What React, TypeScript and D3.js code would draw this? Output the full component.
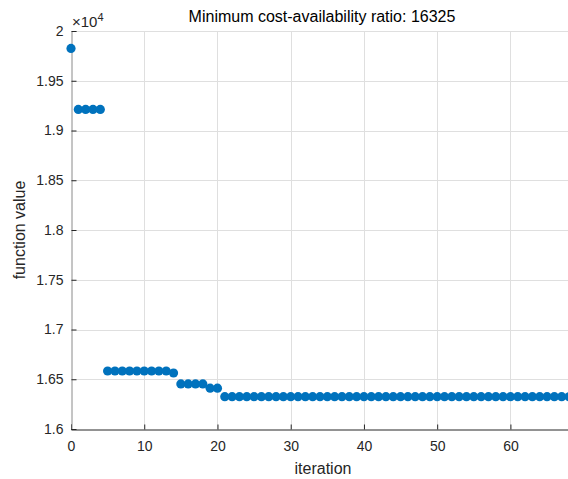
import React, { useEffect, useRef } from "react";
import * as d3 from "d3";

// function value per iteration
const startValues = [19825, 19212, 19212, 19212, 19212];
const plateau1 = [16583, 16583, 16583, 16583, 16583, 16583, 16583, 16583, 16583, 16563];
const plateau2 = [16453, 16453, 16453, 16453, 16410, 16410];
const finalValue = 16325;
const finalCount = 48; // iterations 21..68
const yTicks = [1.6, 1.65, 1.7, 1.75, 1.8, 1.85, 1.9, 1.95, 2];
const xTicks = [0, 10, 20, 30, 40, 50, 60];

const values = [
  ...startValues,
  ...plateau1,
  ...plateau2,
  ...Array(finalCount).fill(finalValue),
];

const App = () => {
  const ref = useRef<SVGSVGElement | null>(null);

  useEffect(() => {
    if (!ref.current) return;
    const svg = d3.select(ref.current);
    svg.selectAll("*").remove();
    const width = 568;
    const height = 479;
    const margin = { top: 31, right: -1, bottom: 50, left: 71 };
    const font = "Liberation Sans, Arial, sans-serif";

    const x = d3
      .scaleLinear()
      .domain([0, 68])
      .range([margin.left, width - margin.right]);
    const y = d3
      .scaleLinear()
      .domain([16000, 20000])
      .range([height - margin.bottom, margin.top]);

    svg.append("rect").attr("width", width).attr("height", height).attr("fill", "#fff");

    // grid
    const grid = svg.append("g").attr("stroke", "#dfdfdf").attr("stroke-width", 1);
    xTicks.slice(1).forEach((t) => {
      grid
        .append("line")
        .attr("x1", Math.round(x(t)) + 0.5)
        .attr("x2", Math.round(x(t)) + 0.5)
        .attr("y1", y(20000))
        .attr("y2", y(16000));
    });
    yTicks.slice(1).forEach((t) => {
      grid
        .append("line")
        .attr("x1", x(0))
        .attr("x2", width)
        .attr("y1", Math.round(y(t * 1e4)) + 0.5)
        .attr("y2", Math.round(y(t * 1e4)) + 0.5);
    });

    // axes
    const xAxis = svg
      .append("g")
      .attr("transform", `translate(0,${Math.round(y(16000)) + 0.5})`)
      .call(
        d3
          .axisBottom(x)
          .tickValues(xTicks)
          .tickSize(-5)
          .tickPadding(12)
          .tickFormat((d) => String(d))
      );
    xAxis.select(".domain").attr("stroke", "#262626");
    xAxis.selectAll(".tick line").attr("stroke", "#262626");
    xAxis
      .selectAll(".tick text")
      .attr("fill", "#262626")
      .attr("font-size", 14)
      .attr("font-family", font);

    const yAxis = svg
      .append("g")
      .attr("transform", `translate(${Math.round(x(0)) + 0.5},0)`)
      .call(
        d3
          .axisLeft(y)
          .tickValues(yTicks.map((t) => t * 1e4))
          .tickSize(-5)
          .tickPadding(8)
          .tickFormat((d) => String(+(+d / 1e4).toFixed(2)))
      );
    yAxis.select(".domain").attr("stroke", "#8a8a8a");
    yAxis.selectAll(".tick line").attr("stroke", "#262626");
    yAxis
      .selectAll(".tick text")
      .attr("fill", "#262626")
      .attr("font-size", 14)
      .attr("font-family", font);

    // exponent
    const exp = svg
      .append("text")
      .attr("x", x(0) + 1)
      .attr("y", 27)
      .attr("font-family", font)
      .attr("font-size", 15)
      .attr("fill", "#262626");
    exp.append("tspan").text("×10");
    exp.append("tspan").attr("font-size", 11).attr("dy", -6).text("4");

    // points
    svg
      .append("g")
      .selectAll("circle")
      .data(values)
      .join("circle")
      .attr("cx", (_, i) => x(i))
      .attr("cy", (d) => y(d))
      .attr("r", 4.6)
      .attr("fill", "#0072BD");

    // labels
    svg
      .append("text")
      .attr("x", 322)
      .attr("y", 22)
      .attr("text-anchor", "middle")
      .attr("font-family", font)
      .attr("font-size", 16)
      .attr("fill", "#000")
      .text("Minimum cost-availability ratio: " + finalValue);

    svg
      .append("text")
      .attr("x", 323)
      .attr("y", 474)
      .attr("text-anchor", "middle")
      .attr("font-family", font)
      .attr("font-size", 16)
      .attr("fill", "#262626")
      .text("iteration");

    svg
      .append("text")
      .attr("transform", `translate(25,${(y(16000) + y(20000)) / 2}) rotate(-90)`)
      .attr("text-anchor", "middle")
      .attr("font-family", font)
      .attr("font-size", 16)
      .attr("fill", "#262626")
      .text("function value");
  }, []);

  return (
    <svg
      ref={ref}
      width={568}
      height={479}
      style={{ position: "absolute", left: 0, top: 0 }}
    ></svg>
  );
};

export default App;
